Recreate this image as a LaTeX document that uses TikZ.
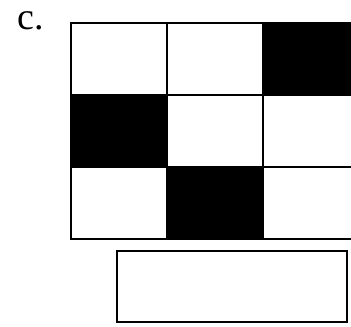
\documentclass[tikz,border=0pt]{standalone}
\usepackage{fontspec}
\setmainfont{Liberation Serif}
\usetikzlibrary{positioning}
\begin{document}
\begin{tikzpicture}[x=0.5pt,y=-0.5pt,
    every node/.style={font=\fontsize{19}{22}\selectfont},
    cell/.style={draw,line width=1.2pt,minimum width=48pt,minimum height=36pt,inner sep=0pt},
    answer/.style={draw,line width=1.2pt,minimum width=115pt,minimum height=35.5pt,inner sep=0pt}]
  \useasboundingbox (0,0) rectangle (351,326);
  \node[anchor=base west,inner sep=0pt] (lbl) at (17,30) {c.};
  \foreach \i/\j/\col in {0/0/white,0/1/white,0/2/black,
                          1/0/black,1/1/white,1/2/white,
                          2/0/white,2/1/black,2/2/white}
     \node[cell,fill=\col] (s\i\j) at ({119+96*\j},{59+72*\i}) {};
  \node[answer] (box) at (232,286.5) {};
\end{tikzpicture}
\end{document}
